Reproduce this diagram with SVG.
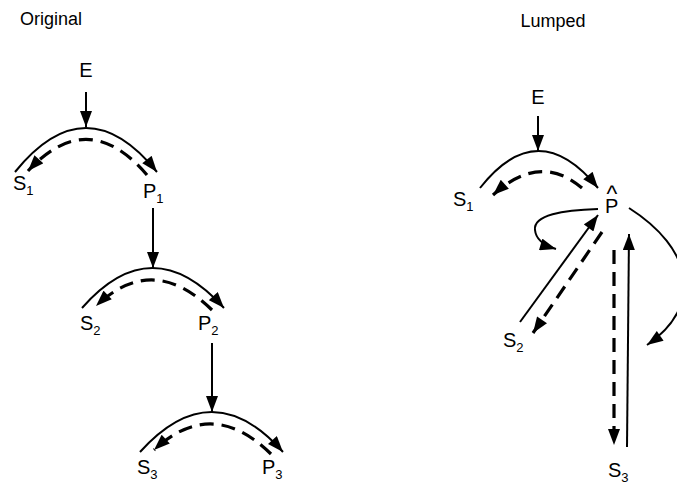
<svg xmlns="http://www.w3.org/2000/svg" width="677" height="502" viewBox="0 0 677 502">
<style>
text{font-family:"Liberation Sans",Arial,sans-serif;font-size:20px;fill:#000}
.t{font-size:18px}
.sub{font-size:13px}
.hat{font-size:23px}
.s{fill:none;stroke:#000;stroke-width:2}
.d{fill:none;stroke:#000;stroke-width:3.2;stroke-dasharray:14 8}
</style>
<defs>
<marker id="ah" viewBox="0 0 16 12" refX="16" refY="6" markerWidth="17" markerHeight="12" markerUnits="userSpaceOnUse" orient="auto"><path d="M0,0 L16,6 L0,12 z"/></marker>
</defs>
<rect width="677" height="502" fill="#fff"/>
<text class="t" x="20" y="25">Original</text>
<text class="t" x="553" y="27" text-anchor="middle">Lumped</text>
<g id="left-E"><text x="86" y="77" text-anchor="middle">E</text></g>
<g id="left-S1"><text x="13" y="190">S<tspan class="sub" dy="5">1</tspan></text></g>
<g id="left-P1"><text x="143" y="198">P<tspan class="sub" dy="5">1</tspan></text></g>
<g id="left-S2"><text x="80" y="330">S<tspan class="sub" dy="5">2</tspan></text></g>
<g id="left-P2"><text x="198" y="330">P<tspan class="sub" dy="5">2</tspan></text></g>
<g id="left-S3"><text x="137" y="474">S<tspan class="sub" dy="5">3</tspan></text></g>
<g id="left-P3"><text x="262" y="474">P<tspan class="sub" dy="5">3</tspan></text></g>
<g id="right-E"><text x="538" y="104" text-anchor="middle">E</text></g>
<g id="right-S1"><text x="453" y="206">S<tspan class="sub" dy="5">1</tspan></text></g>
<g id="right-P"><text x="605" y="213">P<tspan class="hat" x="606.5" y="202">^</tspan></text></g>
<g id="right-S2"><text x="503" y="347">S<tspan class="sub" dy="5">2</tspan></text></g>
<g id="right-S3"><text x="608" y="477">S<tspan class="sub" dy="5">3</tspan></text></g>
<g id="connectors">
<path class="s" d="M86,92 L86,127" marker-end="url(#ah)"/>
<path class="s" d="M15,172 Q86,84 157,172" marker-end="url(#ah)"/>
<path class="d" d="M147,175 Q88,106 28,171" marker-end="url(#ah)"/>
<path class="s" d="M153,208 L153,268" marker-end="url(#ah)"/>
<path class="s" d="M82,308 Q152,228 224,308" marker-end="url(#ah)"/>
<path class="d" d="M212,310 Q153,252 96,306" marker-end="url(#ah)"/>
<path class="s" d="M212,343 L212,412" marker-end="url(#ah)"/>
<path class="s" d="M140,452 Q212,372 283,452" marker-end="url(#ah)"/>
<path class="d" d="M271,454 Q212,396 154,450" marker-end="url(#ah)"/>
<path class="s" d="M538,116 L538,151" marker-end="url(#ah)"/>
<path class="s" d="M480,188 Q538,114 598,188" marker-end="url(#ah)"/>
<path class="d" d="M582,188 Q540,152 493,195" marker-end="url(#ah)"/>
<path class="s" d="M598,209 C563,210 533,215 535,230 C536,241 546,246 556,249" marker-end="url(#ah)"/>
<path class="s" d="M520,322 L598,215" marker-end="url(#ah)"/>
<path class="d" d="M602,232 L533,333" marker-end="url(#ah)"/>
<path class="d" d="M614,250 L614,445" marker-end="url(#ah)"/>
<path class="s" d="M627,447 L629,234" marker-end="url(#ah)"/>
<path class="s" d="M629,208 C692,248 705,305 647,345" marker-end="url(#ah)"/>
</g>
</svg>
